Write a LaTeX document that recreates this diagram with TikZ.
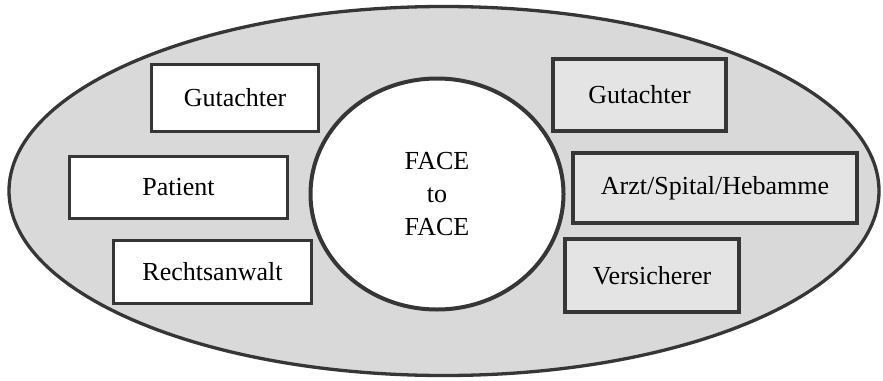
\documentclass[tikz,border=0pt]{standalone}
\usepackage{fontspec}
\newfontfamily\labelfont{Liberation Serif}
\usetikzlibrary{shapes.geometric}

\definecolor{edge}{HTML}{363636}
\definecolor{field}{HTML}{D9D9D9}
\definecolor{rbox}{HTML}{E4E4E4}

\begin{document}
\begin{tikzpicture}[
  x=1pt,y=-1pt,
  font=\labelfont\fontsize{26}{33}\selectfont,
  lbox/.style={draw=edge,line width=3.2pt,fill=white,inner sep=0pt},
  rbox/.style={draw=edge,line width=4pt,fill=rbox,inner sep=0pt},
  ring/.style={ellipse,draw=edge,inner sep=0pt}]
\useasboundingbox (0,0) rectangle (883,380);

% --- outer field and the centre ---
\node[ring,line width=3.3pt,fill=field,minimum width=870pt,minimum height=369pt]
  (field) at (444,191) {};
\node[ring,line width=4pt,fill=white,minimum width=253pt,minimum height=231pt,
      align=center] (face) at (437,194) {FACE\\to\\FACE};

% --- left side ---
\node[lbox,minimum width=167pt,minimum height=67pt] (gutL) at (235,98) {Gutachter};
\node[lbox,minimum width=218pt,minimum height=62pt] (patient) at (178.5,187.5) {Patient};
\node[lbox,minimum width=198pt,minimum height=63pt] (anwalt) at (212.5,272) {Rechtsanwalt};

% --- right side ---
\node[rbox,minimum width=173pt,minimum height=72pt] (gutR) at (639.5,95) {Gutachter};
\node[rbox,minimum width=284pt,minimum height=70pt] (arzt) at (715,188) {Arzt/Spital/Hebamme};
\node[rbox,minimum width=174pt,minimum height=73pt] (versich) at (652,275.5) {Versicherer};

\end{tikzpicture}
\end{document}
